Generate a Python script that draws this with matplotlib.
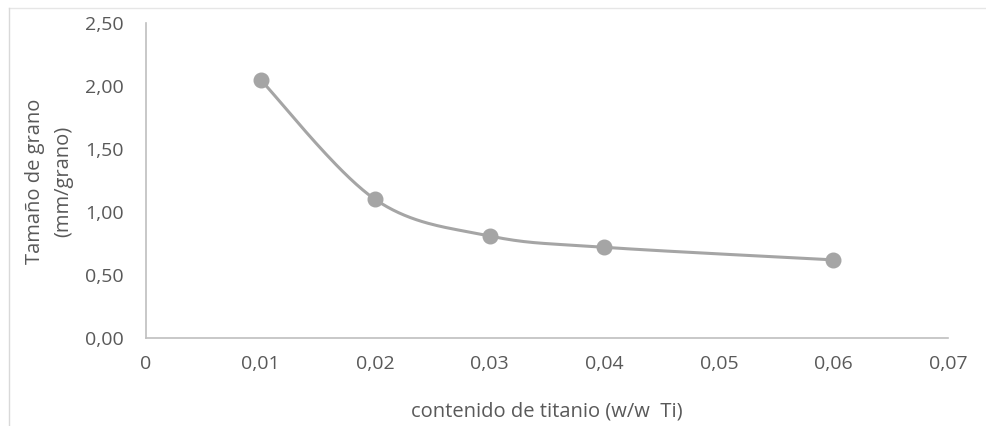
import numpy as np
import matplotlib
matplotlib.use("Agg")
import matplotlib.pyplot as plt
from matplotlib.lines import Line2D
from matplotlib.ticker import FuncFormatter

x_vals = [0.01, 0.02, 0.03, 0.04, 0.06]
y_vals = [2.05, 1.10, 0.81, 0.72, 0.62]
x_ticks = [0, 0.01, 0.02, 0.03, 0.04, 0.05, 0.06, 0.07]
y_ticks = [0.0, 0.5, 1.0, 1.5, 2.0, 2.5]

plt.rcParams['font.family'] = ['Open Sans', 'DejaVu Sans']

def smooth(xs, ys, n=40):
    P = np.column_stack([xs, ys])
    out = [P[0]]
    for i in range(len(P) - 1):
        p0 = P[i - 1] if i > 0 else P[i]
        p1 = P[i]
        p2 = P[i + 1]
        p3 = P[i + 2] if i + 2 < len(P) else P[i + 1]
        c1 = p1 + (p2 - p0) / 6
        c2 = p2 - (p3 - p1) / 6
        t = np.linspace(0, 1, n)[1:, None]
        seg = ((1 - t) ** 3) * p1 + 3 * ((1 - t) ** 2) * t * c1 + 3 * (1 - t) * t ** 2 * c2 + t ** 3 * p2
        out.extend(seg)
    out = np.array(out)
    return out[:, 0], out[:, 1]

fig = plt.figure(figsize=(9.87, 4.26), dpi=100)
ax = fig.add_axes([146 / 987, 88 / 426, (948 - 146) / 987, (338 - 23) / 426])

sx, sy = smooth(x_vals, y_vals)
ax.plot(sx, sy, color='#a5a5a5', lw=2.2, solid_capstyle='round', zorder=2)
ax.plot(x_vals, y_vals, 'o', color='#a5a5a5', markersize=10.5, zorder=3)

ax.set_xlim(0, 0.07)
ax.set_ylim(0, 2.5)
ax.set_xticks(x_ticks)
ax.set_yticks(y_ticks)
ax.xaxis.set_major_formatter(FuncFormatter(lambda v, p: '0' if v == 0 else f'{v:.2f}'.replace('.', ',')))
ax.yaxis.set_major_formatter(FuncFormatter(lambda v, p: f'{v:.2f}'.replace('.', ',')))
ax.tick_params(axis='both', length=0, labelsize=14, labelcolor='#595959')
ax.tick_params(axis='y', pad=16)
ax.tick_params(axis='x', pad=12)
for s in ['top', 'right']:
    ax.spines[s].set_visible(False)
for s in ['left', 'bottom']:
    ax.spines[s].set_color('#bfbfbf')
    ax.spines[s].set_linewidth(1.2)

ax.set_xlabel('contenido de titanio (w/w  Ti)', fontsize=14.5, color='#595959', labelpad=21)
fig.text(49 / 987, 1 - 181 / 426, 'Tamaño de grano\n(mm/grano)', rotation=90, ha='center', va='center',
         fontsize=14.5, color='#595959', multialignment='center', linespacing=1.5)

fig.add_artist(Line2D([9 / 987, 1], [1 - 8 / 426, 1 - 8 / 426], transform=fig.transFigure, color='#e6e6e6', lw=1))
fig.add_artist(Line2D([9 / 987, 9 / 987], [0, 1 - 8 / 426], transform=fig.transFigure, color='#d9d9d9', lw=1))

fig.savefig('out.png', dpi=100)
